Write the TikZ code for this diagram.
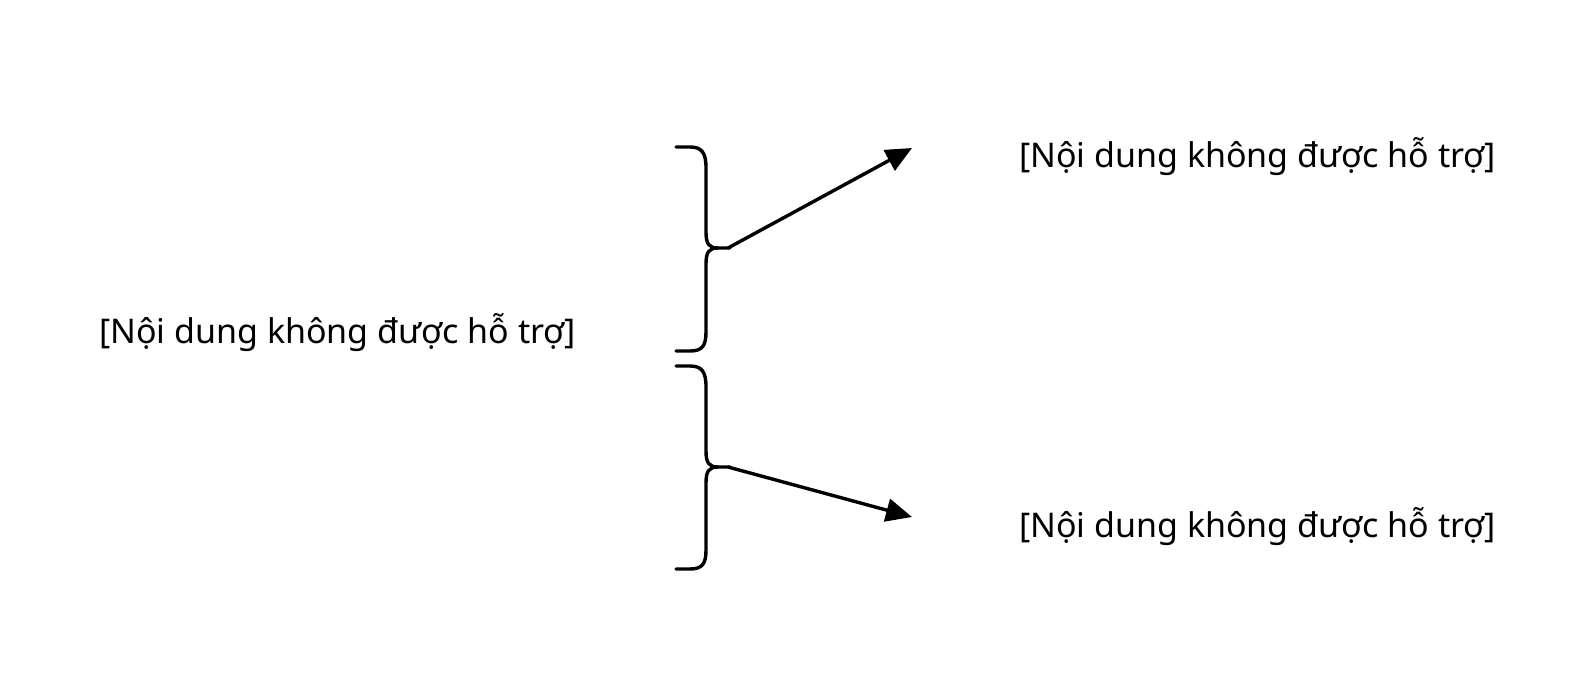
\documentclass[tikz,border=0pt]{standalone}
\usepackage{fontspec}
\setmainfont{Noto Sans}
\usetikzlibrary{arrows.meta}
\begin{document}
\begin{tikzpicture}[x=1pt,y=-1pt,
  lbl/.style={inner sep=0pt,anchor=base west,font=\fontsize{34}{40}\selectfont},
  bracepath/.style={line width=3.4pt,line cap=round,line join=round},
  arr/.style={line width=3.4pt,-{Triangle[length=26pt,width=23pt]}}]
\useasboundingbox (0,0) rectangle (1584,672);
\fill[white] (0,0) rectangle (1584,672);
\node[lbl] (src) at (99,343) {[Nội dung không được hỗ trợ]};
\node[lbl] (t1) at (1019,167) {[Nội dung không được hỗ trợ]};
\node[lbl] (t2) at (1019,537) {[Nội dung không được hỗ trợ]};
% top brace
\draw[bracepath] (676,147) -- (690,147) .. controls (702,147) and (706,153) .. (706,168)
  -- (706,232) .. controls (706,244) and (709,248) .. (718,248) -- (730,248);
\draw[bracepath] (718,248) .. controls (709,248) and (706,252) .. (706,264)
  -- (706,332) .. controls (706,346) and (702,351) .. (690,351) -- (676,351);
% bottom brace
\draw[bracepath] (676,366) -- (690,366) .. controls (702,366) and (706,372) .. (706,387)
  -- (706,451) .. controls (706,463) and (709,467) .. (718,467) -- (730,467);
\draw[bracepath] (718,467) .. controls (709,467) and (706,471) .. (706,483)
  -- (706,550) .. controls (706,564) and (702,569) .. (690,569) -- (676,569);
\coordinate (b1) at (728,248);
\coordinate (b2) at (728,467);
\coordinate (e1) at (912,148);
\coordinate (e2) at (912,517);
\draw[arr] (b1) -- (e1);
\draw[arr] (b2) -- (e2);
\end{tikzpicture}
\end{document}
